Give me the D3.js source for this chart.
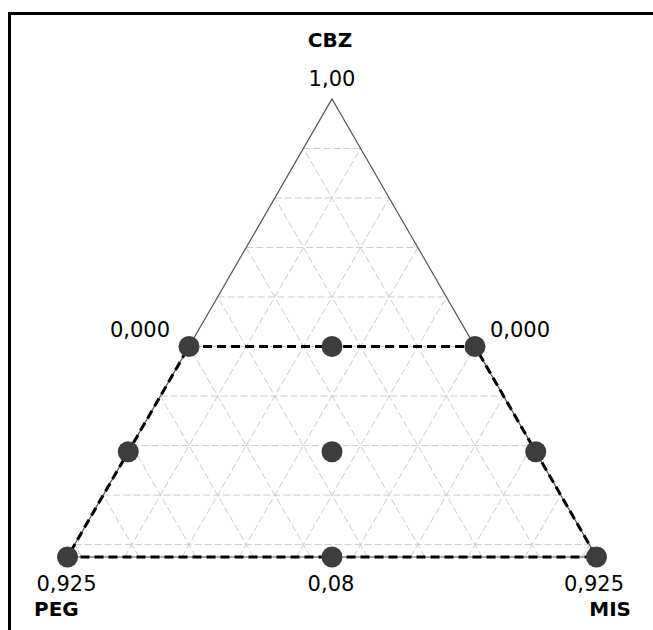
<!DOCTYPE html>
<html>
<head>
<meta charset="utf-8">
<script src="https://cdn.jsdelivr.net/npm/d3@7"></script>
<style>
  html, body { margin: 0; padding: 0; background: #fff; overflow: hidden; }
  svg { display: block; }
  text { font-family: "DejaVu Sans", Verdana, sans-serif; fill: #000; }
</style>
</head>
<body>
<svg id="chart" width="653" height="630"></svg>
<script>
// Components and their lower bounds (L-pseudo components, range 0.925)
const components = ["CBZ", "PEG", "MIS"];
const lowerBounds = [0.075, 0, 0];
const range = 0.925;

// Design points: CBZ, PEG, MIS fractions
const cbz = [0.5, 0.5, 0.5, 0.2875, 0.2875, 0.2875, 0.075, 0.075, 0.075];
const peg = [0.5, 0.25, 0, 0.7125, 0.35625, 0, 0.925, 0.4625, 0];
const mis = [0, 0.25, 0.5, 0, 0.35625, 0.7125, 0, 0.4625, 0.925];

// Constrained region outline (indices into the design points)
const region = [0, 2, 8, 6];

// Grid values along each axis
const gridValues = [0.1, 0.2, 0.3, 0.4, 0.5, 0.6, 0.7, 0.8, 0.9];

// Value labels at vertices
const apexLabel = "1,00";
const vertexLabels = [
  { i: 0, text: "0,000", anchor: "end", dx: -19, dy: -10 },
  { i: 2, text: "0,000", anchor: "start", dx: 15, dy: -10 },
  { i: 6, text: "0,925", anchor: "middle", dx: -1, dy: 34 },
  { i: 7, text: "0,08", anchor: "middle", dx: -1, dy: 34 },
  { i: 8, text: "0,925", anchor: "middle", dx: -2.5, dy: 34 }
];

const svg = d3.select("#chart");

// Frame
svg.append("rect")
  .attr("x", 9.5).attr("y", 13.5)
  .attr("width", 700).attr("height", 700)
  .attr("fill", "none").attr("stroke", "#000").attr("stroke-width", 3);

// Triangle geometry
const side = 529;
const xLeft = 67.5, xRight = xLeft + side;
const baseY = 557;
const apexY = baseY - side * Math.sqrt(3) / 2;

// Scales: CBZ sets height, MIS-PEG difference sets horizontal offset
const yScale = d3.scaleLinear().domain([lowerBounds[0], lowerBounds[0] + range]).range([baseY, apexY]);
const xScale = d3.scaleLinear().domain([-1, 1]).range([xLeft, xRight]);

function project(c, p, m) {
  const tp = (p - lowerBounds[1]) / range;
  const tm = (m - lowerBounds[2]) / range;
  return [xScale(tm - tp), yScale(c)];
}

const g = svg.append("g");

// Grid lines
const gridColor = "#cccccc";
function gridLine(a, b) {
  g.append("line")
    .attr("x1", a[0]).attr("y1", a[1]).attr("x2", b[0]).attr("y2", b[1])
    .attr("stroke", gridColor).attr("stroke-width", 1)
    .attr("stroke-dasharray", "7,3");
}
gridValues.forEach(v => {
  // CBZ constant
  const rc = (v - lowerBounds[0]);
  if (rc > 0 && rc < range) {
    gridLine(project(v, range - rc, 0), project(v, 0, range - rc));
  }
  // PEG constant
  const rp = v - lowerBounds[1];
  if (rp > 0 && rp < range) {
    gridLine(project(lowerBounds[0], v, range - rp), project(lowerBounds[0] + range - rp, v, 0));
  }
  // MIS constant
  const rm = v - lowerBounds[2];
  if (rm > 0 && rm < range) {
    gridLine(project(lowerBounds[0], range - rm, v), project(lowerBounds[0] + range - rm, 0, v));
  }
});

// Triangle outline
const corners = [
  project(lowerBounds[0] + range, 0, 0),
  project(lowerBounds[0], range, 0),
  project(lowerBounds[0], 0, range)
];
g.append("path")
  .attr("d", d3.line()(corners) + "Z")
  .attr("fill", "none").attr("stroke", "#555").attr("stroke-width", 1.2);

// Design points projected
const pts = cbz.map((c, i) => project(c, peg[i], mis[i]));

// Constrained region
g.append("path")
  .attr("d", d3.line()(region.map(i => pts[i])) + "Z")
  .attr("fill", "none").attr("stroke", "#000").attr("stroke-width", 3)
  .attr("stroke-dasharray", "9,5");

// Points
g.selectAll("circle.pt").data(pts).join("circle")
  .attr("class", "pt")
  .attr("cx", d => d[0]).attr("cy", d => d[1])
  .attr("r", 10.5).attr("fill", "#3d3d3d");

// Value labels
const fs = 21;
svg.append("text")
  .attr("x", corners[0][0]).attr("y", corners[0][1] - 13)
  .attr("text-anchor", "middle").attr("font-size", fs)
  .text(apexLabel);
vertexLabels.forEach(l => {
  svg.append("text")
    .attr("x", pts[l.i][0] + l.dx).attr("y", pts[l.i][1] + l.dy)
    .attr("text-anchor", l.anchor).attr("font-size", fs)
    .text(l.text);
});

// Component names
svg.append("text").attr("x", 330).attr("y", 47)
  .attr("text-anchor", "middle").attr("font-size", 20).attr("font-weight", "bold")
  .text(components[0]);
svg.append("text").attr("x", 34).attr("y", 616)
  .attr("text-anchor", "start").attr("font-size", 20).attr("font-weight", "bold")
  .text(components[1]);
svg.append("text").attr("x", 631).attr("y", 616)
  .attr("text-anchor", "end").attr("font-size", 20).attr("font-weight", "bold")
  .text(components[2]);
</script>
</body>
</html>
